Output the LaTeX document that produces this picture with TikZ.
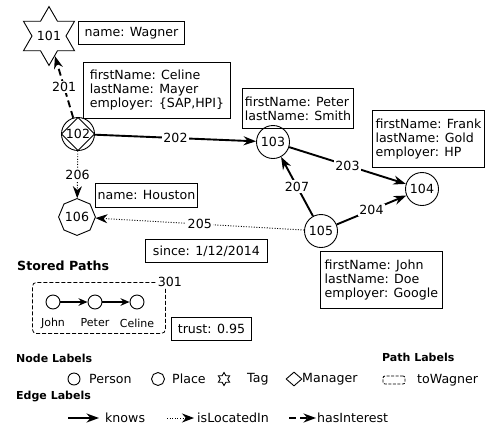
\documentclass[tikz,border=0pt]{standalone}
\usepackage{fontspec}
\setmainfont{DejaVu Sans}
\usetikzlibrary{shapes.geometric,arrows.meta}
\begin{document}
\begin{tikzpicture}[x=1pt,y=-1pt,
  every node/.style={font=\fontsize{12.6}{14}\selectfont, inner sep=0pt},
  vnode/.style={circle, draw, line width=0.9pt, minimum size=33pt, inner sep=0pt},
  box/.style={draw, line width=0.9pt, align=left, anchor=north west, inner sep=0pt},
  elabel/.style={fill=white, inner sep=1.5pt},
  knows/.style={line width=1.9pt, -{Stealth[length=12.5pt,width=9pt]}},
  located/.style={line width=0.9pt, dash pattern=on 1pt off 1.6pt, -{Stealth[length=12pt,width=9pt]}},
  interest/.style={line width=1.9pt, dash pattern=on 7pt off 4pt, -{Stealth[length=12.5pt,width=9pt]}},
  legtitle/.style={font=\bfseries\fontsize{11}{13}\selectfont, anchor=west},
  legtext/.style={anchor=west},
  pnode/.style={circle, draw, line width=0.9pt, minimum size=14pt},
  pedge/.style={line width=1.6pt, -{Stealth[length=9pt,width=7.5pt]}},
  smalltext/.style={font=\fontsize{11}{13}\selectfont},
]
\useasboundingbox (0,0) rectangle (498,445);

% ---- graph nodes
\node[star, star points=6, star point ratio=1.73, draw, line width=0.9pt, minimum size=44pt, inner sep=0pt] (n101) at (49,36) {101};
\node[vnode] (n102) at (78,134) {};
\node[diamond, draw, line width=0.9pt, minimum size=33pt, inner sep=0pt] (n102d) at (n102) {102};
\node[vnode] (n103) at (273,142) {103};
\node[vnode] (n104) at (422,189) {104};
\node[vnode] (n105) at (321,231) {105};
\node[regular polygon, regular polygon sides=8, regular polygon rotate=22.5, draw, line width=0.9pt, minimum size=35pt, inner sep=0pt] (n106) at (77,217) {106};

% ---- property boxes
\node[box, minimum width=106pt, minimum height=23pt] (bWagner) at (78,21) {name: Wagner};
\node[box, minimum width=147pt, minimum height=56pt] (bCeline) at (83,62) {firstName: Celine\\lastName: Mayer\\employer: \{SAP,HPI\}};
\node[box, minimum width=111pt, minimum height=40pt] (bPeter) at (242,88) {firstName: Peter\\lastName: Smith};
\node[box, minimum width=112pt, minimum height=57pt] (bFrank) at (372,110) {firstName: Frank\\lastName: Gold\\employer: HP};
\node[box, minimum width=102pt, minimum height=24pt] (bHouston) at (95,183) {name: Houston};
\node[box, minimum width=122pt, minimum height=23pt] (bSince) at (145,239) {since: 1/12/2014};
\node[box, minimum width=122pt, minimum height=57pt] (bJohn) at (320,251) {firstName: John\\lastName: Doe\\employer: Google};
\node[box, minimum width=80pt, minimum height=23pt] (bTrust) at (171,317) {trust: 0.95};

% ---- edges
\draw[interest] (n102) -- node[elabel] (l201) {201} (n101);
\draw[knows] (n102) -- node[elabel] (l202) {202} (n103);
\draw[knows] (n103) -- node[elabel] (l203) {203} (n104);
\draw[knows] (n105) -- node[elabel] (l204) {204} (n104);
\draw[located] (n105) -- node[elabel] (l205) {205} (n106);
\draw[located] (n102) -- node[elabel] (l206) {206} (n106);
\draw[knows] (n105) -- node[elabel] (l207) {207} (n103);

% ---- stored paths
\node[font=\bfseries\fontsize{12.6}{14}\selectfont, anchor=west] (tStored) at (17,266) {Stored Paths};
\node[draw, line width=0.8pt, dash pattern=on 4pt off 2pt, rounded corners=4pt, minimum width=133pt, minimum height=51pt, anchor=north west] (pbox) at (32,282) {};
\node[fill=white, inner sep=1.5pt] (p301) at ([xshift=4pt]pbox.north east) {301};
\node[pnode] (pJ) at (53,302) {};
\node[pnode] (pP) at (95,302) {};
\node[pnode] (pC) at (137,302) {};
\draw[pedge] (pJ) -- (pP);
\draw[pedge] (pP) -- (pC);
\node[smalltext] (tJ) at (53,323) {John};
\node[smalltext] (tP) at (95,323) {Peter};
\node[smalltext] (tC) at (137,323) {Celine};

% ---- legend
\node[legtitle] (tNode) at (16,358) {Node Labels};
\node[circle, draw, line width=0.9pt, minimum size=12pt] (lgPerson) at (74,379) {};
\node[legtext] (txPerson) at (89,379) {Person};
\node[regular polygon, regular polygon sides=8, regular polygon rotate=22.5, draw, line width=0.9pt, minimum size=13pt] (lgPlace) at (158,379) {};
\node[legtext] (txPlace) at (172,379) {Place};
\node[star, star points=6, star point ratio=1.73, draw, line width=0.9pt, minimum size=13pt] (lgTag) at (224,379) {};
\node[legtext] (txTag) at (247,379) {Tag};
\node[diamond, draw, line width=0.9pt, minimum width=16pt, minimum height=14pt] (lgMan) at (294,379) {};
\node[legtext] (txMan) at (302,379) {Manager};
\node[legtitle] (tPath) at (382,357) {Path Labels};
\node[draw, line width=0.8pt, dash pattern=on 3pt off 1.5pt, rounded corners=2pt, minimum width=22pt, minimum height=8pt] (lgPath) at (394,380) {};
\node[legtext] (txPath) at (417,380) {toWagner};
\node[legtitle] (tEdge) at (16,397) {Edge Labels};
\coordinate (k1) at (68,418);
\coordinate (k2) at (99,418);
\draw[knows] (k1) -- (k2);
\node[legtext] (txKnows) at (105,418) {knows};
\coordinate (d1) at (167,418);
\coordinate (d2) at (194,418);
\draw[located] (d1) -- (d2);
\node[legtext] (txLoc) at (197,418) {isLocatedIn};
\coordinate (h1) at (289,418);
\coordinate (h2) at (316,418);
\draw[interest] (h1) -- (h2);
\node[legtext] (txInt) at (317,418) {hasInterest};
\end{tikzpicture}
\end{document}
